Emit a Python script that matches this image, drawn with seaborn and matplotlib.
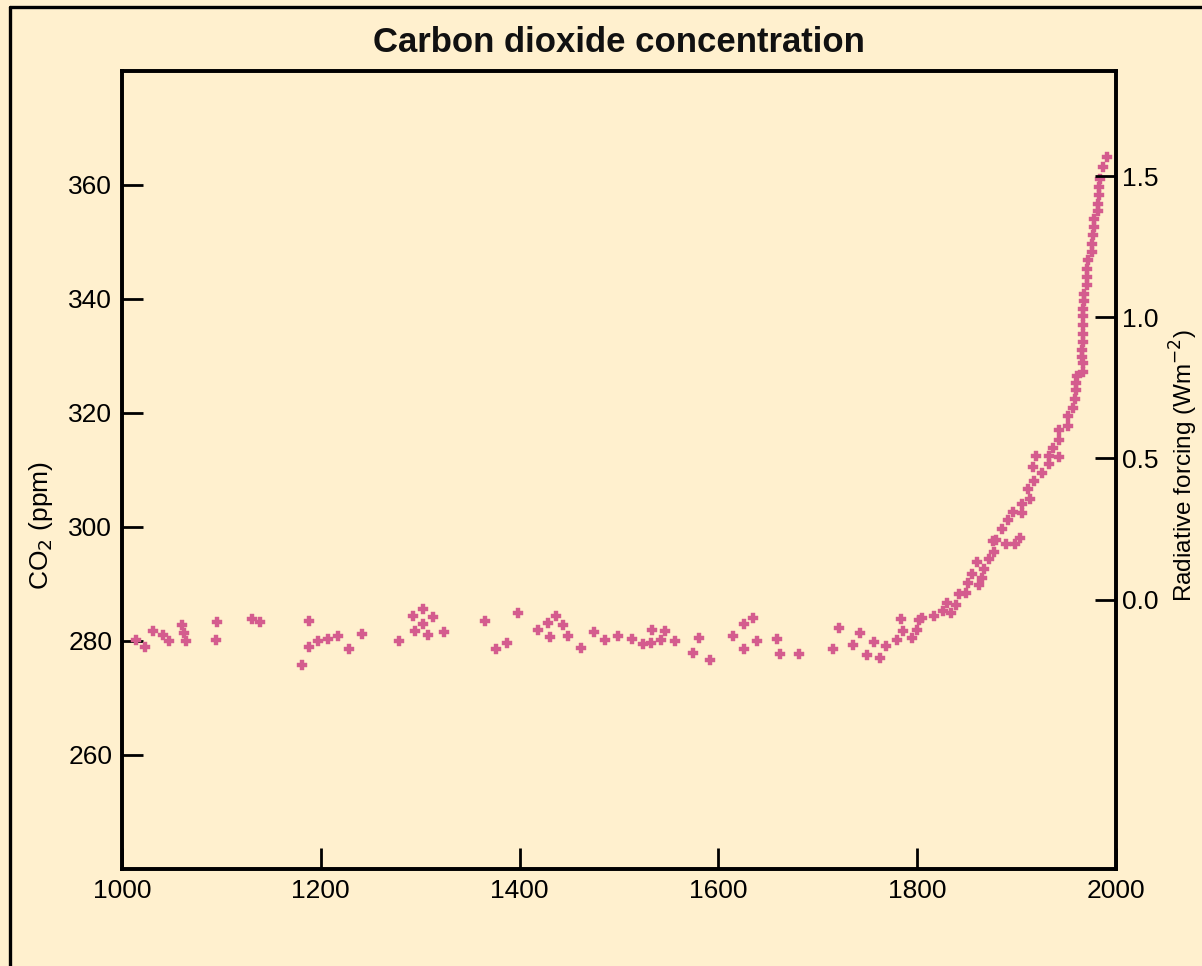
import matplotlib
matplotlib.use("Agg")
import matplotlib.pyplot as plt
import seaborn as sns
import pandas as pd
from matplotlib.lines import Line2D

# ---- data ----
years = [1014, 1023, 1031, 1041, 1047, 1060, 1062, 1064, 1096, 1095, 1131, 1139,
         1181, 1188, 1188, 1197, 1207, 1217, 1228, 1241, 1279, 1293, 1295, 1303,
         1303, 1313, 1308, 1324, 1365, 1376, 1387, 1398, 1419, 1429, 1437, 1444,
         1431, 1449, 1462, 1475, 1486, 1499, 1513, 1524, 1533, 1532, 1542, 1546,
         1556, 1580, 1574, 1592, 1615, 1626, 1635, 1626, 1639, 1659, 1662, 1681,
         1715, 1721, 1735, 1742, 1749, 1757, 1763, 1769, 1780, 1784, 1786, 1795,
         1800, 1802, 1805, 1817, 1826, 1830, 1834, 1839, 1842, 1849, 1851, 1862,
         1855, 1865, 1867, 1860, 1872, 1877, 1876, 1879, 1889, 1885, 1891, 1896,
         1898, 1903, 1905, 1905, 1913, 1911, 1918, 1920, 1917, 1926, 1933, 1933,
         1937, 1943, 1943, 1943, 1952, 1952, 1957, 1959, 1960, 1960, 1961, 1967,
         1967, 1966, 1966, 1967, 1967, 1967, 1967, 1967, 1968, 1968, 1971, 1971,
         1971, 1972, 1976, 1976, 1977, 1978, 1978, 1982, 1982, 1983, 1983, 1984,
         1987, 1991]
co2_ppm = [280.1, 278.9, 281.7, 281.0, 280.0, 282.8, 281.4, 280.0, 283.3, 280.1, 283.8, 283.3,
           275.8, 283.5, 278.9, 280.0, 280.3, 280.8, 278.6, 281.2, 280.0, 284.3, 281.7, 285.6,
           282.9, 284.2, 281.0, 281.5, 283.5, 278.6, 279.6, 285.0, 281.9, 283.1, 284.3, 282.8,
           280.7, 280.8, 278.7, 281.5, 280.1, 280.8, 280.3, 279.4, 281.9, 279.6, 280.1, 281.7,
           280.0, 280.5, 277.9, 276.6, 280.8, 282.9, 284.0, 278.6, 280.0, 280.3, 277.7, 277.7,
           278.6, 282.2, 279.3, 281.4, 277.5, 279.8, 277.0, 279.1, 280.1, 283.8, 281.7, 280.5,
           281.9, 283.6, 284.0, 284.3, 285.2, 286.6, 285.0, 286.4, 288.2, 288.5, 290.1, 289.8,
           291.7, 291.0, 292.7, 293.8, 294.3, 295.6, 297.5, 297.8, 297.0, 299.6, 301.3, 302.7,
           297.0, 298.0, 302.4, 304.0, 305.0, 306.6, 308.0, 312.5, 310.6, 309.4, 311.0, 312.5,
           313.9, 312.2, 315.3, 317.1, 317.8, 319.5, 320.9, 322.5, 324.1, 325.3, 326.5, 327.2,
           328.7, 329.9, 331.1, 332.5, 333.9, 335.5, 337.1, 338.3, 339.7, 340.9, 342.5, 343.9,
           345.3, 346.9, 348.3, 349.7, 351.2, 352.6, 354.0, 355.4, 356.7, 358.2, 359.6, 361.1,
           363.2, 364.9]

x_ticks = [1000, 1200, 1400, 1600, 1800, 2000]
y_ticks = [260, 280, 300, 320, 340, 360]
rf_ticks = [0.0, 0.5, 1.0, 1.5]
rf_labels = ["0.0", "0.5", "1.0", "1.5"]

title = "Carbon dioxide concentration"
ylabel_left = r"CO$_2$ (ppm)"
ylabel_right = r"Radiative forcing (Wm$^{-2}$)"

df = pd.DataFrame({"year": years, "co2": co2_ppm})

bg = "#FFF0CE"
pink = "#D45C8E"

sns.set_theme(style="ticks")
plt.rcParams["font.family"] = ["Liberation Sans", "DejaVu Sans"]

fig = plt.figure(figsize=(12.02, 9.66), dpi=100, facecolor=bg)
ax = fig.add_axes([122 / 1202, 1 - 869 / 966, (1116 - 122) / 1202, (869 - 71) / 966])
ax.set_facecolor(bg)

sns.scatterplot(data=df, x="year", y="co2", ax=ax, marker="P", s=60,
                color=pink, edgecolor=pink, linewidth=0.3, legend=False, zorder=3)

ax.set_xlim(1000, 2000)
ax.set_ylim(240, 380)
ax.set_xticks(x_ticks)
ax.set_yticks(y_ticks)
ax.set_xlabel("")
ax.set_ylabel(ylabel_left, fontsize=19, color="black")
ax.yaxis.set_label_coords(-0.067, 0.43)

ax.tick_params(axis="both", direction="in", length=15, width=2, labelsize=19,
               colors="black")
ax.tick_params(axis="x", pad=7)
ax.tick_params(axis="y", pad=7)

ax2 = ax.twinx()
ax2.set_ylim(-0.955, 1.873)
ax2.set_yticks(rf_ticks)
ax2.set_yticklabels(rf_labels)
ax2.tick_params(axis="y", direction="in", length=15, width=2, labelsize=19, pad=4,
                colors="black")
ax2.set_ylabel(ylabel_right, fontsize=17.5, color="black")
ax2.yaxis.set_label_coords(1.052, 0.506)

for a in (ax, ax2):
    for sp in a.spines.values():
        sp.set_visible(True)
        sp.set_linewidth(2.6)
        sp.set_color("black")

ax.set_title(title, fontsize=25, fontweight="bold", pad=14, color="#111111")

# panel frame (left and top edges)
fig.add_artist(Line2D([10 / 1202, 10 / 1202], [0, 1 - 7 / 966], color="black",
                      lw=2.4, transform=fig.transFigure))
fig.add_artist(Line2D([10 / 1202, 1], [1 - 7 / 966, 1 - 7 / 966], color="black",
                      lw=2.4, transform=fig.transFigure))

fig.savefig("out.png", dpi=100, facecolor=bg)
